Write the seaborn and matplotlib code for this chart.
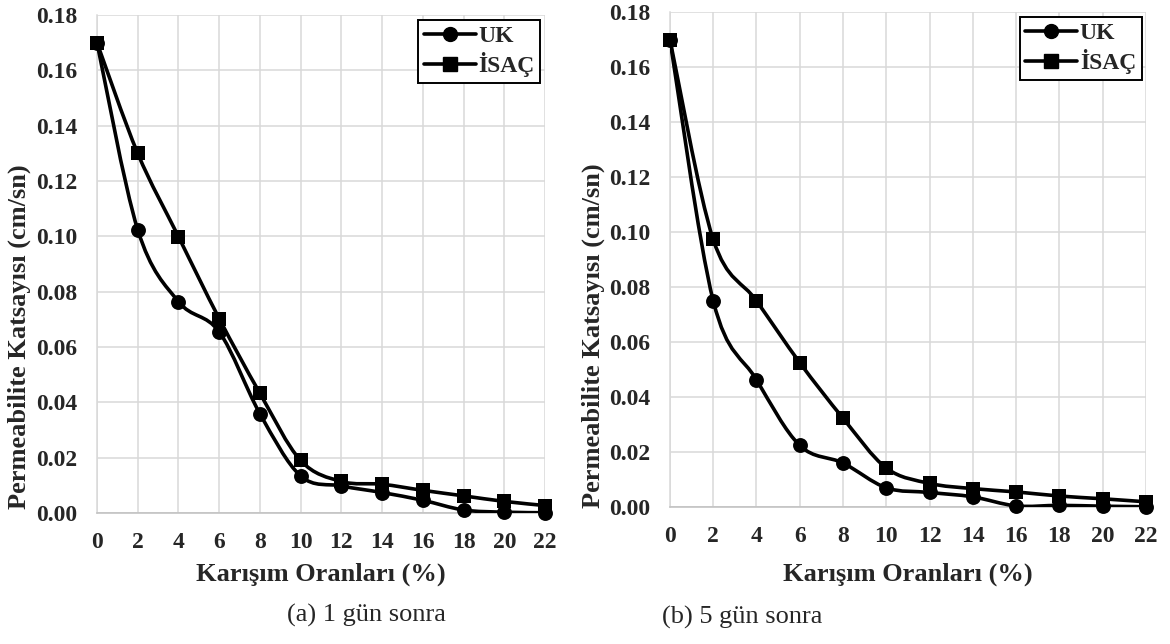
"""
Permeability coefficient vs. mixing ratio, 1 and 5 days after curing.

Usage:
    python plot.py
"""
from __future__ import annotations

import numpy as np
import matplotlib
matplotlib.use("Agg")
import matplotlib.pyplot as plt
from matplotlib.path import Path
from matplotlib.patches import PathPatch
from matplotlib.lines import Line2D
import seaborn as sns

# --- data ---
RATIOS = [0, 2, 4, 6, 8, 10, 12, 14, 16, 18, 20, 22]

UK_1 = [0.170, 0.1024, 0.0764, 0.0655, 0.0359, 0.0134, 0.0098, 0.0074,
        0.0046, 0.0011, 0.0003, 0.0001]
ISAC_1 = [0.170, 0.130, 0.0999, 0.0703, 0.0433, 0.0190, 0.0114, 0.0104,
          0.0082, 0.0062, 0.0042, 0.0027]

UK_5 = [0.170, 0.0750, 0.0463, 0.0224, 0.0160, 0.0070, 0.0053, 0.0037,
        0.0004, 0.0006, 0.0003, 0.0001]
ISAC_5 = [0.170, 0.0973, 0.0750, 0.0525, 0.0323, 0.0142, 0.0086, 0.0067,
          0.0055, 0.0040, 0.0030, 0.0019]

SERIES_NAMES = ["UK", "İSAÇ"]
MARKERS = ["o", "s"]
X_TICKS = list(range(0, 23, 2))
Y_TICKS = [0.00, 0.02, 0.04, 0.06, 0.08, 0.10, 0.12, 0.14, 0.16, 0.18]
X_LABEL = "Karışım Oranları (%)"
Y_LABEL = "Permeabilite Katsayısı (cm/sn)"
CAPTIONS = ["(a) 1 gün sonra", "(b) 5 gün sonra"]

GRID = "#d9d9d9"
AXIS = "#bfbfbf"


def _smooth_path(xs, ys) -> Path:
    """Excel-like smoothed line: Catmull-Rom segments as cubic Beziers."""
    pts = np.column_stack([xs, ys]).astype(float)
    n = len(pts)
    verts = [pts[0]]
    codes = [Path.MOVETO]
    for i in range(n - 1):
        p0 = pts[max(i - 1, 0)]
        p1 = pts[i]
        p2 = pts[i + 1]
        p3 = pts[min(i + 2, n - 1)]
        verts += [p1 + (p2 - p0) / 6, p2 - (p3 - p1) / 6, p2]
        codes += [Path.CURVE4] * 3
    return Path(verts, codes)


def panel(ax, series, xlab_y, ylab_x, ylab_y, legend_anchor) -> None:
    for ys, marker in zip(series, MARKERS):
        ax.add_patch(PathPatch(_smooth_path(RATIOS, ys), facecolor="none",
                               edgecolor="black", lw=2.6, zorder=3))
        sns.scatterplot(x=RATIOS, y=ys, marker=marker, s=115, color="black",
                        edgecolor="black", linewidth=0, ax=ax, zorder=4,
                        clip_on=False)

    ax.set_xlim(0, 22)
    ax.set_ylim(0, 0.18)
    ax.set_xticks(X_TICKS)
    ax.set_yticks(Y_TICKS)
    ax.set_yticklabels([f"{v:.2f}" for v in Y_TICKS])
    ax.grid(True, color=GRID, lw=1.1)
    ax.set_axisbelow(True)
    for side in ("top", "right"):
        ax.spines[side].set_visible(False)
    ax.spines["left"].set_color(GRID)
    ax.spines["left"].set_linewidth(1.1)
    ax.spines["bottom"].set_color(AXIS)
    ax.spines["bottom"].set_linewidth(1.1)
    ax.tick_params(axis="both", length=5, width=1.1, color=AXIS,
                   labelsize=17)
    ax.tick_params(axis="y", pad=9)
    ax.tick_params(axis="x", pad=9)
    for lab in ax.get_xticklabels() + ax.get_yticklabels():
        lab.set_fontweight("bold")

    ax.set_xlabel(X_LABEL, fontsize=19, fontweight="bold", va="center")
    ax.set_ylabel(Y_LABEL, fontsize=19, fontweight="bold", va="center")
    ax.xaxis.set_label_coords(0.5, xlab_y)
    ax.yaxis.set_label_coords(ylab_x, ylab_y)

    handles = [Line2D([], [], color="black", lw=2.6, marker=m, markersize=10)
               for m in MARKERS]
    leg = ax.legend(handles, SERIES_NAMES, loc="upper right",
                    bbox_to_anchor=legend_anchor, borderaxespad=0,
                    fancybox=False, framealpha=1, handlelength=2.2,
                    handletextpad=0.1, borderpad=0.25, labelspacing=0.2,
                    prop={"weight": "bold", "size": 17})
    leg.get_frame().set_edgecolor("black")
    leg.get_frame().set_linewidth(1.4)


def main() -> None:
    sns.set_style("white")
    plt.rcParams["font.family"] = ["Liberation Serif", "DejaVu Serif"]

    fig = plt.figure(figsize=(11.7, 6.44), dpi=100)
    ax1 = fig.add_axes([0.0829, 0.2034, 0.3829, 0.7733])
    ax2 = fig.add_axes([0.5726, 0.2127, 0.4068, 0.7686])

    panel(ax1, [UK_1, ISAC_1], -0.1225, -0.174, 0.355, (0.989, 0.990))
    panel(ax2, [UK_5, ISAC_5], -0.135, -0.162, 0.347, (0.9916, 0.990))

    fig.text(287 / 1170, 1 - 615 / 644, CAPTIONS[0], fontsize=19,
             ha="left", va="center")
    fig.text(662 / 1170, 1 - 617 / 644, CAPTIONS[1], fontsize=19,
             ha="left", va="center")

    fig.savefig("out.png", dpi=100)
    plt.close(fig)


if __name__ == "__main__":
    main()
